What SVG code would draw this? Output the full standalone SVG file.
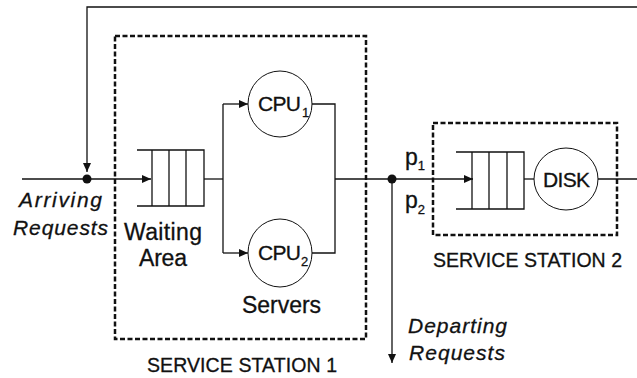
<svg xmlns="http://www.w3.org/2000/svg" width="637" height="378" viewBox="0 0 637 378">
  <style>
    .ln { fill: none; stroke: #111; stroke-width: 1.3; }
    .box { fill: none; stroke: #111; stroke-width: 2.5; stroke-dasharray: 5 2.5; }
    .srv { fill: #fff; stroke: #111; stroke-width: 1; }
    .q { fill: none; stroke: #111; stroke-width: 1.3; }
    .dot { fill: #111; }
    text { font-family: "Liberation Sans", Arial, sans-serif; fill: #111; stroke: #111; stroke-width: 0.3; }
    .lbl { font-size: 23px; }
    .it { font-size: 21px; font-style: italic; }
    .st { font-size: 19.5px; }
    .nm { font-size: 21px; }
    .sub { font-size: 13px; }
  </style>
  <defs>
    <marker id="arr" markerUnits="userSpaceOnUse" markerWidth="12" markerHeight="10" refX="10" refY="5" orient="auto">
      <path d="M1,1 L10,5 L1,9 Z" fill="#111"/>
    </marker>
  </defs>

  <!-- service station boundaries -->
  <rect class="box" x="115" y="36" width="251" height="303"/>
  <rect class="box" x="433" y="123" width="184" height="112"/>

  <!-- connectors -->
  <g id="connectors">
    <polyline class="ln" points="637,7 87,7 87,172" marker-end="url(#arr)"/>
    <line class="ln" x1="22" y1="179" x2="151" y2="179" marker-end="url(#arr)"/>
    <line class="ln" x1="204" y1="179" x2="223" y2="179"/>
    <line class="ln" x1="223" y1="104" x2="223" y2="253"/>
    <line class="ln" x1="223" y1="104" x2="248" y2="104" marker-end="url(#arr)"/>
    <line class="ln" x1="223" y1="253" x2="248" y2="253" marker-end="url(#arr)"/>
    <polyline class="ln" points="312,104 335,104 335,253 312,253"/>
    <line class="ln" x1="335" y1="179" x2="473" y2="179" marker-end="url(#arr)"/>
    <line class="ln" x1="392" y1="179" x2="392" y2="363" marker-end="url(#arr)"/>
    <line class="ln" x1="524" y1="179" x2="534" y2="179"/>
    <line class="ln" x1="598" y1="179" x2="637" y2="179"/>
    <circle class="dot" cx="87" cy="179" r="4.5"/>
    <circle class="dot" cx="392" cy="179" r="4.5"/>
  </g>

  <!-- arrival / departure labels -->
  <g id="arrivals">
    <text class="it" x="19" y="207" textLength="83" lengthAdjust="spacing">Arriving</text>
    <text class="it" x="13" y="235" textLength="95" lengthAdjust="spacing">Requests</text>
  </g>
  <g id="departures">
    <text class="it" x="408" y="333" textLength="99" lengthAdjust="spacing">Departing</text>
    <text class="it" x="409" y="360" textLength="96" lengthAdjust="spacing">Requests</text>
  </g>

  <!-- routing probabilities -->
  <g id="routing">
    <text class="lbl" x="405" y="165">p<tspan class="sub" dy="5">1</tspan></text>
    <text class="lbl" x="405" y="208">p<tspan class="sub" dy="6">2</tspan></text>
  </g>

  <!-- station 1: queue and two CPUs -->
  <g id="queue1">
    <polyline class="q" points="137,150 204,150 204,206 137,206"/>
    <line class="q" x1="152" y1="150" x2="152" y2="206"/>
    <line class="q" x1="169" y1="150" x2="169" y2="206"/>
    <line class="q" x1="186" y1="150" x2="186" y2="206"/>
    <text class="lbl" x="124" y="240" textLength="78" lengthAdjust="spacing">Waiting</text>
    <text class="lbl" x="139" y="266" textLength="48" lengthAdjust="spacing">Area</text>
  </g>
  <g id="cpu1">
    <ellipse class="srv" cx="280" cy="104" rx="32" ry="33"/>
    <text class="nm" x="258" y="111" textLength="43" lengthAdjust="spacing">CPU</text>
    <text class="sub" x="302" y="117">1</text>
  </g>
  <g id="cpu2">
    <ellipse class="srv" cx="280" cy="253" rx="32" ry="34"/>
    <text class="nm" x="258" y="260" textLength="43" lengthAdjust="spacing">CPU</text>
    <text class="sub" x="301" y="266">2</text>
  </g>
  <g id="servers-label">
    <text class="lbl" x="242" y="313" textLength="79" lengthAdjust="spacing">Servers</text>
  </g>
  <g id="station1-label">
    <text class="st" x="147" y="372" textLength="190" lengthAdjust="spacing">SERVICE STATION 1</text>
  </g>

  <!-- station 2: queue and disk -->
  <g id="queue2">
    <polyline class="q" points="456,152 524,152 524,209 456,209"/>
    <line class="q" x1="472" y1="152" x2="472" y2="209"/>
    <line class="q" x1="489" y1="152" x2="489" y2="209"/>
    <line class="q" x1="507" y1="152" x2="507" y2="209"/>
  </g>
  <g id="disk">
    <ellipse class="srv" cx="566" cy="179" rx="32" ry="31"/>
    <text class="nm" x="543" y="187" textLength="47" lengthAdjust="spacing">DISK</text>
  </g>
  <g id="station2-label">
    <text class="st" x="433" y="267" textLength="189" lengthAdjust="spacing">SERVICE STATION 2</text>
  </g>
</svg>
